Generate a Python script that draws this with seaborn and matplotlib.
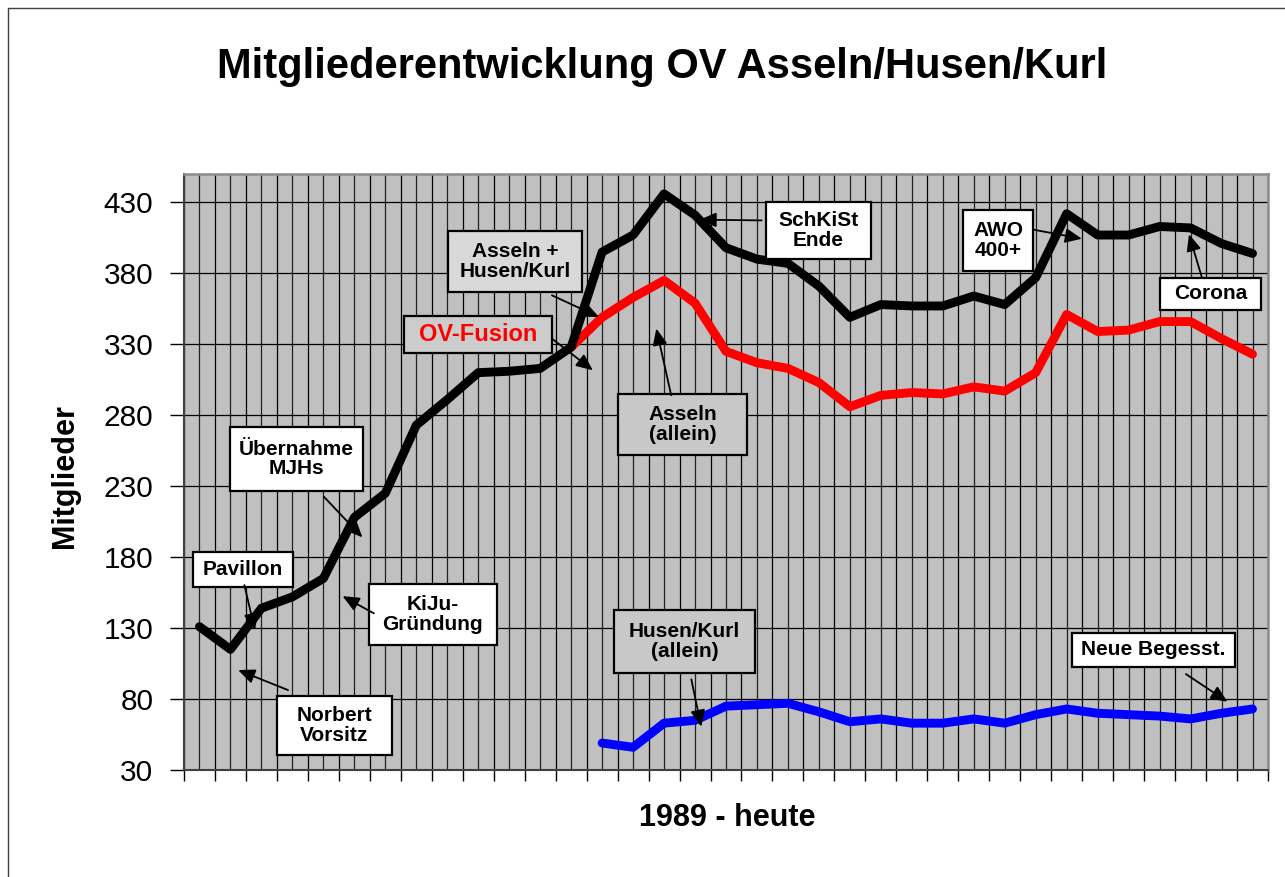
import numpy as np
import pandas as pd
import matplotlib
matplotlib.use("Agg")
import matplotlib.pyplot as plt
from matplotlib.patches import Rectangle
from matplotlib.lines import Line2D
import seaborn as sns

# ---------------- data ----------------
years_total = list(range(1989, 2024))
total = [131, 115, 144, 152, 165, 208, 225, 273, 291, 310, 311, 313, 328,
         395, 407, 436, 421, 398, 390, 387, 371, 349, 358, 357, 357, 364,
         358, 377, 422, 407, 407, 413, 412, 401, 394]

years_asseln = list(range(2001, 2024))
asseln = [328, 349, 363, 375, 359, 325, 317, 313, 303, 286, 294, 296, 295,
          300, 297, 310, 351, 339, 340, 346, 346, 334, 323]

years_husen = list(range(2002, 2024))
husen = [49, 46, 63, 65, 75, 76, 77, 71, 64, 66, 63, 63, 66, 63, 69, 73,
         70, 69, 68, 66, 70, 73]

y_ticks = [30, 80, 130, 180, 230, 280, 330, 380, 430]

title = "Mitgliederentwicklung OV Asseln/Husen/Kurl"
y_label = "Mitglieder"
x_label = "1989 - heute"

# annotations: text, box (x0, x1, y0, y1), arrow tail, arrow tip, box colour, text colour, size
notes = [
    ("Pavillon", (1988.78, 1992.03, 159.1, 183.7), (1990.45, 160.3), (1990.79, 128.6), "white", "black", 15),
    ("Übernahme\nMJHs", (1989.98, 1994.27, 226.5, 271.8), (1993.02, 222.5), (1994.26, 193.9), "white", "black", 15),
    ("KiJu-\nGründung", (1994.48, 1998.59, 118.0, 160.8), (1994.63, 140.4), (1993.62, 152.5), "white", "black", 15),
    ("Norbert\nVorsitz", (1991.51, 1995.2, 40.6, 82.1), (1991.86, 86.3), (1990.25, 100.4), "white", "black", 15),
    ("Asseln +\nHusen/Kurl", (1997.03, 2001.35, 366.8, 409.6), (2000.38, 364.5), (2001.9, 349.2), "#D9D9D9", "black", 15),
    ("OV-Fusion", (1995.6, 2000.38, 323.9, 350.2), (2000.41, 333.5), (2001.7, 311.7), "#CCCCCC", "#FF0000", 17),
    ("Asseln\n(allein)", (2002.51, 2006.67, 251.8, 295.3), (2004.23, 294.1), (2003.75, 341.1), "#C8C8C8", "black", 15),
    ("SchKiSt\nEnde", (2007.3, 2010.68, 390.4, 430.2), (2007.15, 417.3), (2005.15, 417.8), "white", "black", 15),
    ("AWO\n400+", (2013.66, 2015.92, 381.6, 424.4), (2015.92, 410.8), (2017.49, 404.4), "white", "black", 15),
    ("Corona", (2020.0, 2023.28, 354.0, 377.0), (2021.36, 377.4), (2020.95, 407.5), "white", "black", 15),
    ("Husen/Kurl\n(allein)", (2002.38, 2006.94, 98.1, 142.7), (2004.88, 93.9), (2005.2, 60.5), "#C8C8C8", "black", 15),
    ("Neue Begesst.", (2017.17, 2022.43, 102.7, 126.7), (2020.85, 97.6), (2022.19, 78.1), "white", "black", 15),
]

# ---------------- style ----------------
sns.set_style("white")
plt.rcParams["font.family"] = ["Liberation Sans", "DejaVu Sans"]
plt.rcParams["text.color"] = "black"
plt.rcParams["axes.labelcolor"] = "black"
plt.rcParams["xtick.color"] = "black"
plt.rcParams["ytick.color"] = "black"

fig = plt.figure(figsize=(12.85, 8.77), dpi=100)
ax = fig.add_axes([184 / 1285, 1 - 770 / 877, (1268 - 184) / 1285, (770 - 174) / 877])
ax.set_facecolor("#C0C0C0")

df_total = pd.DataFrame({"Jahr": years_total, "Mitglieder": total})
df_asseln = pd.DataFrame({"Jahr": years_asseln, "Mitglieder": asseln})
df_husen = pd.DataFrame({"Jahr": years_husen, "Mitglieder": husen})

sns.lineplot(data=df_asseln, x="Jahr", y="Mitglieder", ax=ax, color="#FF0000",
             linewidth=6.4, zorder=3)
sns.lineplot(data=df_total, x="Jahr", y="Mitglieder", ax=ax, color="black",
             linewidth=6.4, zorder=4)
sns.lineplot(data=df_husen, x="Jahr", y="Mitglieder", ax=ax, color="#0000FF",
             linewidth=6.4, zorder=4)

x0, x1 = years_total[0] - 0.5, years_total[-1] + 0.5
ax.set_xlim(x0, x1)
ax.set_ylim(30, 450)

# grid
ax.set_xticks(np.arange(x0, x1 + 0.01, 1.0))
ax.set_xticks(np.arange(x0 + 0.5, x1, 1.0), minor=True)
ax.set_xticklabels([])
ax.set_yticks(y_ticks)
ax.grid(True, which="major", axis="both", color="black", linewidth=0.9, zorder=1)
ax.grid(True, which="minor", axis="x", color="#202020", linewidth=0.9, zorder=1)
ax.set_axisbelow(True)
ax.tick_params(axis="x", which="major", direction="out", length=8, width=1, color="black", bottom=True)
ax.tick_params(axis="x", which="minor", length=0)
ax.tick_params(axis="y", which="major", direction="out", length=10, width=1, color="black",
               left=True, labelsize=21.5, pad=12, labelcolor="black")

ax.set_xlabel("")
ax.set_ylabel("")
for s in ["top", "right"]:
    ax.spines[s].set_color("#8C8C8C")
    ax.spines[s].set_linewidth(1.8)
for s in ["left", "bottom"]:
    ax.spines[s].set_color("#404040")
    ax.spines[s].set_linewidth(1.5)

# annotations
for text, (bx0, bx1, by0, by1), tail, tip, fc, tc, fs in notes:
    ax.add_patch(Rectangle((bx0, by0), bx1 - bx0, by1 - by0, facecolor=fc,
                           edgecolor="black", linewidth=1.6, zorder=6))
    ax.text((bx0 + bx1) / 2, (by0 + by1) / 2, text, ha="center", va="center",
            fontsize=fs, fontweight="bold", color=tc, linespacing=1.05, zorder=7)
    ax.annotate("", xy=tip, xytext=tail, zorder=8,
                arrowprops=dict(arrowstyle="-|>,head_length=0.5,head_width=0.22",
                                color="black", lw=1.3, shrinkA=0, shrinkB=0,
                                mutation_scale=20))

# texts
fig.text(662 / 1285, 1 - 78 / 877, title, ha="center", va="baseline",
         fontsize=30, fontweight="bold", color="black")
fig.text(65 / 1285, 1 - 476 / 877, y_label, ha="center", va="center",
         rotation=90, fontsize=22, fontweight="bold", color="black")
fig.text(727 / 1285, 1 - 818 / 877, x_label, ha="center", va="center",
         fontsize=22, fontweight="bold", color="black")

# chart frame (top and left visible)
fig.add_artist(Line2D([8 / 1285, 8 / 1285], [0, 1 - 8 / 877], color="#404040", lw=1.0,
                      transform=fig.transFigure))
fig.add_artist(Line2D([8 / 1285, 1], [1 - 8 / 877, 1 - 8 / 877], color="#404040", lw=1.0,
                      transform=fig.transFigure))

fig.savefig("out.png", dpi=100)
